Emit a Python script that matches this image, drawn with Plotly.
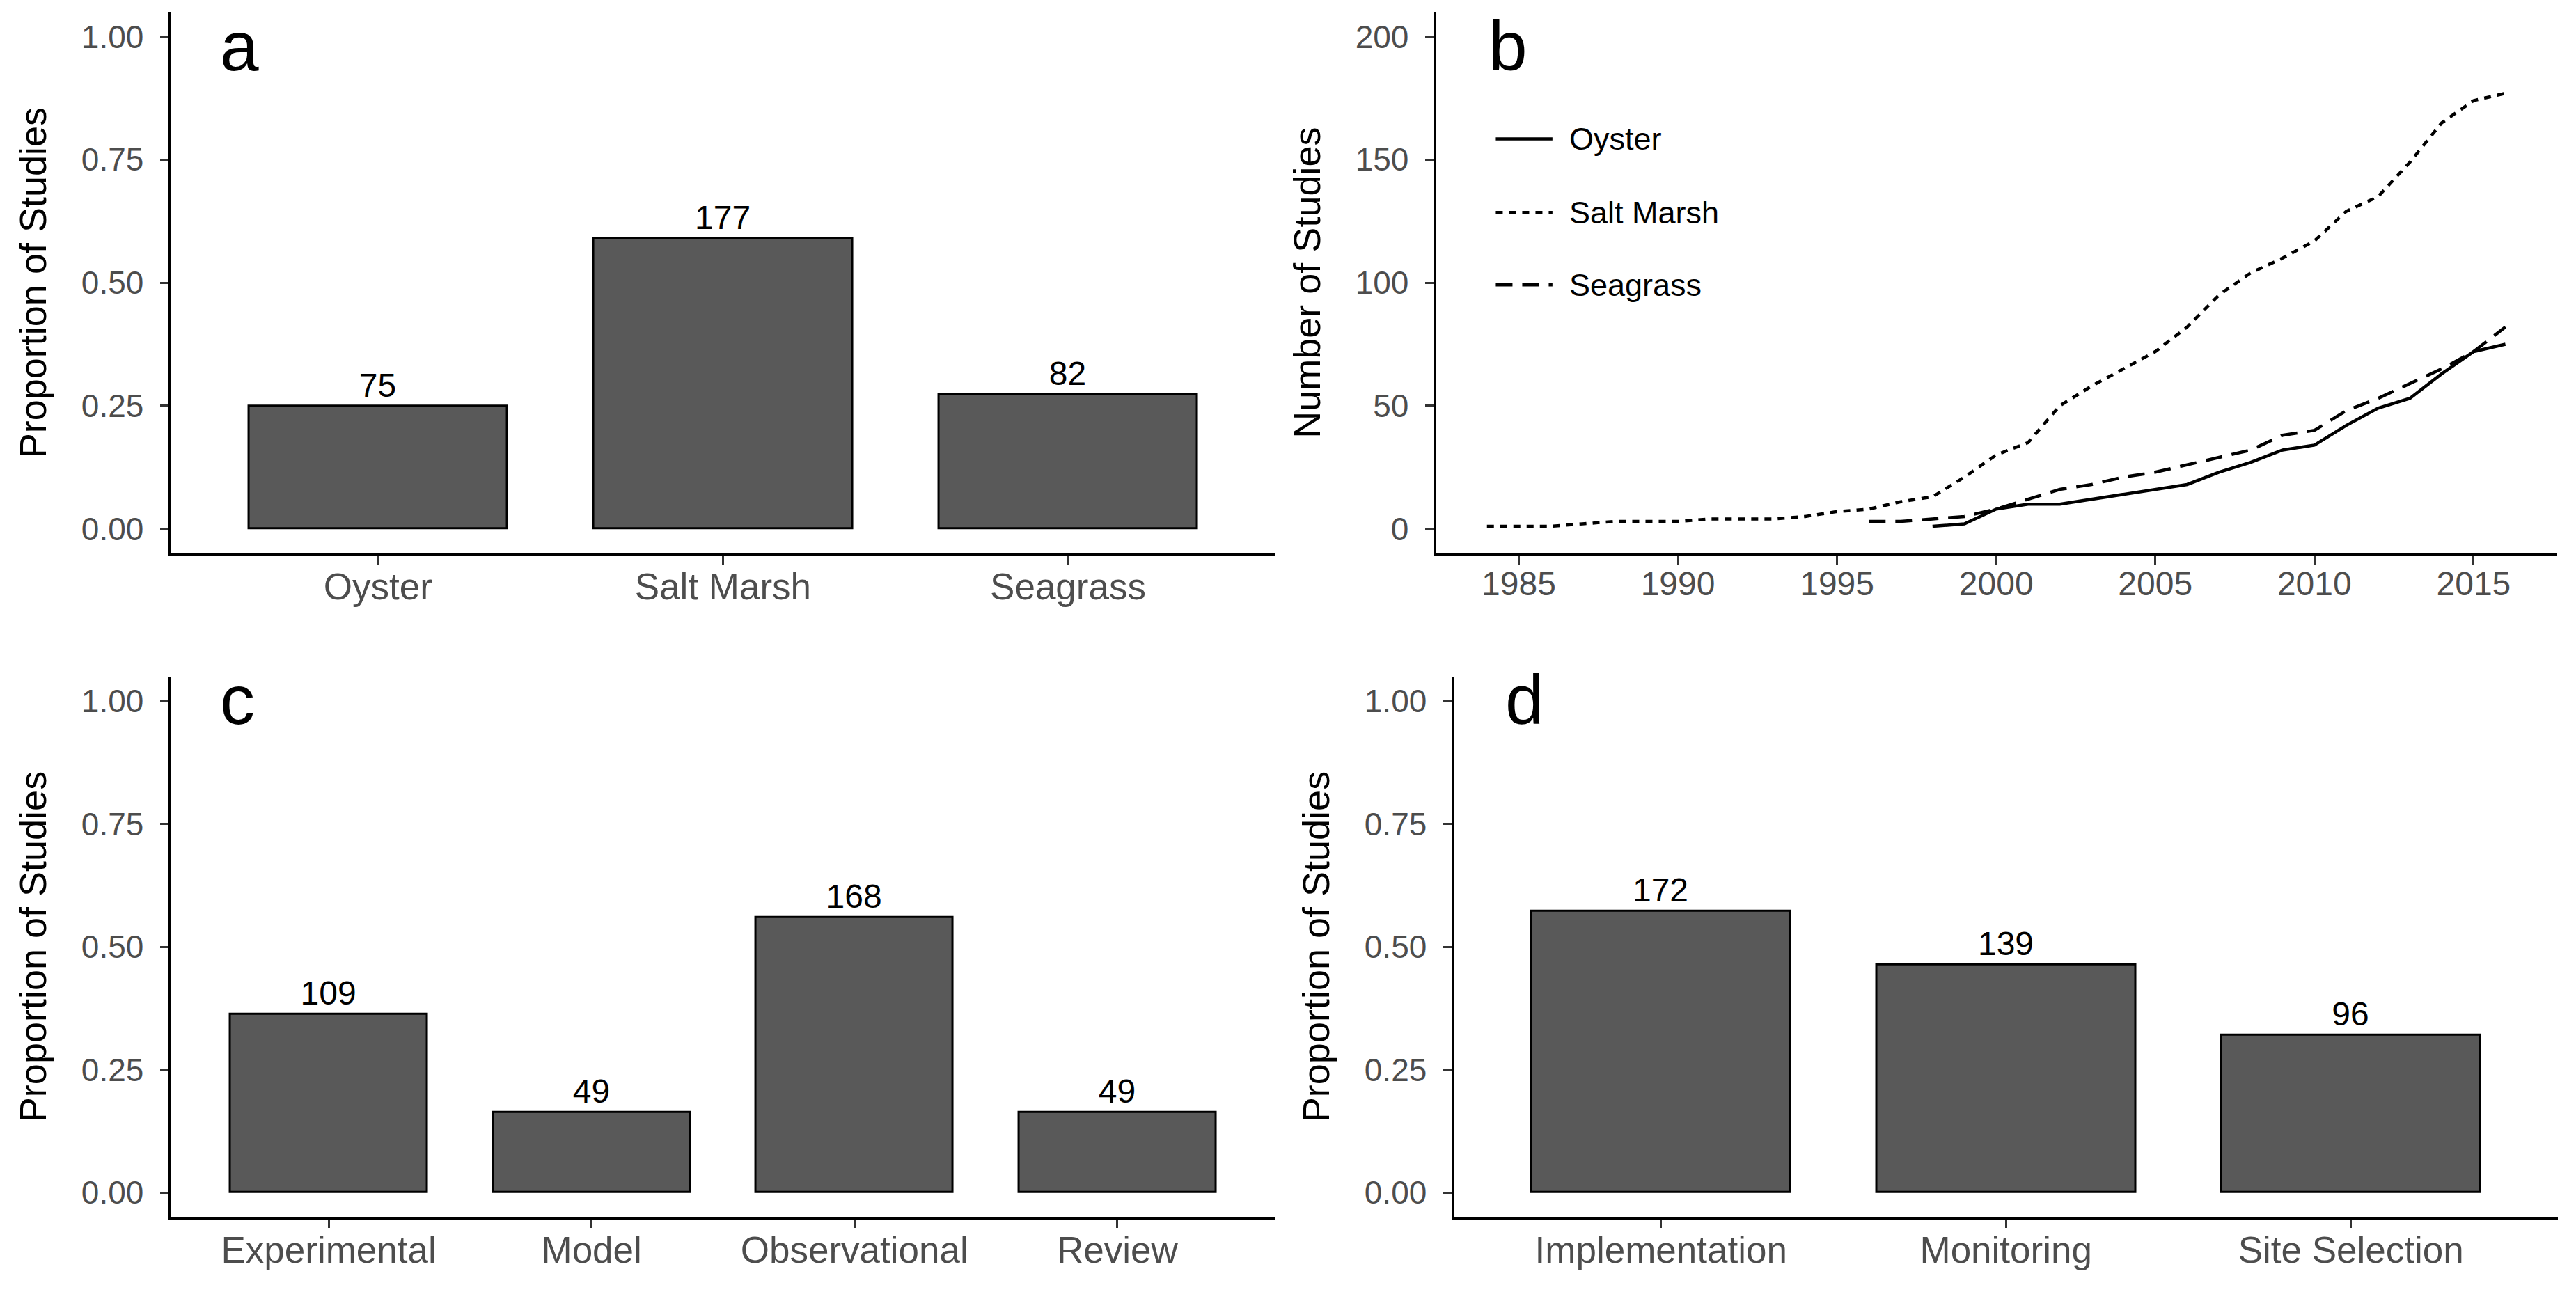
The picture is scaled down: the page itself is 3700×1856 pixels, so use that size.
import plotly.graph_objects as go

# panel a: habitat
habitats = ["Oyster", "Salt Marsh", "Seagrass"]
habitat_counts = [75, 177, 82]
total_studies = 300

# panel b: cumulative studies per year
marsh_years = list(range(1984, 2017))
marsh_cum = [1, 1, 1, 2, 3, 3, 3, 4, 4, 4, 5, 7, 8, 11, 13, 21, 30, 35, 50, 58,
             65, 72, 82, 95, 104, 110, 117, 129, 135, 149, 165, 174, 177]
oyster_years = list(range(1998, 2017))
oyster_cum = [1, 2, 8, 10, 10, 12, 14, 16, 18, 23, 27, 32, 34, 42, 49, 53, 63, 72, 75]
seagrass_years = list(range(1996, 2017))
seagrass_cum = [3, 3, 4, 5, 8, 12, 16, 18, 21, 23, 26, 29, 32, 38, 40, 48, 53, 59, 65, 72, 82]

# panel c: study type
study_types = ["Experimental", "Model", "Observational", "Review"]
type_counts = [109, 49, 168, 49]

# panel d: restoration stage
stages = ["Implementation", "Monitoring", "Site Selection"]
stage_counts = [172, 139, 96]

FONT = "Liberation Sans, Arial, Helvetica, sans-serif"
BAR_FILL = "#595959"
TICK_GREY = "#4D4D4D"
LINE_W = 4.5
DOT = "10px,9px"
DASH = "24px,14px"

fig = go.Figure()


def add_bars(cats, counts, xa, ya):
    props = [c / total_studies for c in counts]
    fig.add_trace(go.Bar(
        x=cats, y=props, width=0.75, xaxis=xa, yaxis=ya,
        marker=dict(color=BAR_FILL, line=dict(color="black", width=3)),
        text=[str(c) for c in counts], textposition="outside", cliponaxis=False,
        textfont=dict(family=FONT, size=48, color="black"),
        showlegend=False, hoverinfo="skip"))


add_bars(habitats, habitat_counts, "x", "y")
add_bars(study_types, type_counts, "x3", "y3")
add_bars(stages, stage_counts, "x4", "y4")

series = [("Oyster", oyster_years, oyster_cum, "solid"),
          ("Salt Marsh", marsh_years, marsh_cum, DOT),
          ("Seagrass", seagrass_years, seagrass_cum, DASH)]
for name, yrs, vals, dash in series:
    fig.add_trace(go.Scatter(x=yrs, y=vals, mode="lines", name=name,
                             xaxis="x2", yaxis="y2", showlegend=False,
                             line=dict(color="black", width=LINE_W, dash=dash)))

# legend drawn by hand so the key lines are as long as in ggplot
legend_y = [0.8968, 0.8398, 0.7838]
for (name, _, _, dash), ly in zip(series, legend_y):
    fig.add_shape(type="line", xref="paper", yref="paper",
                  x0=0.5785, x1=0.6005, y0=ly, y1=ly,
                  line=dict(color="black", width=LINE_W, dash=dash))
    fig.add_annotation(text=name, x=0.6065, y=ly, xref="paper", yref="paper",
                       xanchor="left", yanchor="middle", showarrow=False,
                       font=dict(family=FONT, size=45, color="black"))

top_dom = [0.576, 0.995]
bot_dom = [0.0623, 0.4808]

common_axis = dict(showline=True, linecolor="black", linewidth=4, mirror=False,
                   ticks="outside", ticklen=12, tickwidth=3, tickcolor="#333333",
                   showgrid=False, zeroline=False,
                   tickfont=dict(family=FONT, size=46, color=TICK_GREY))

cat_x = dict(common_axis, ticklabelstandoff=-14,
             tickfont=dict(family=FONT, size=53, color=TICK_GREY))

prop_y = dict(common_axis, range=[-0.05, 1.05], tickvals=[0, 0.25, 0.5, 0.75, 1.0],
              ticktext=["0.00", "0.25", "0.50", "0.75", "1.00"], ticklabelstandoff=14,
              title=dict(text="Proportion of Studies", standoff=34,
                         font=dict(family=FONT, size=54, color="black")))

fig.update_layout(
    width=3700, height=1856,
    margin=dict(l=0, r=0, t=0, b=0),
    paper_bgcolor="white", plot_bgcolor="white",
    font=dict(family=FONT, color="black"),
    bargap=0,
    showlegend=False,
    xaxis=dict(cat_x, domain=[0.0642, 0.4928], range=[-0.6, 2.6], anchor="y"),
    yaxis=dict(prop_y, domain=top_dom, anchor="x"),
    xaxis2=dict(common_axis, domain=[0.5553, 0.9902], range=[1982.4, 2017.6],
                tickvals=[1985, 1990, 1995, 2000, 2005, 2010, 2015], anchor="y2",
                ticklabelstandoff=-14,
                tickfont=dict(family=FONT, size=48, color=TICK_GREY)),
    yaxis2=dict(common_axis, domain=top_dom, range=[-10, 210], anchor="x2",
                tickvals=[0, 50, 100, 150, 200], ticklabelstandoff=14,
                title=dict(text="Number of Studies", standoff=34,
                           font=dict(family=FONT, size=54, color="black"))),
    xaxis3=dict(cat_x, domain=[0.0642, 0.4928], range=[-0.6, 3.6], anchor="y3"),
    yaxis3=dict(prop_y, domain=bot_dom, anchor="x3"),
    xaxis4=dict(cat_x, domain=[0.5623, 0.9908], range=[-0.6, 2.6], anchor="y4"),
    yaxis4=dict(prop_y, domain=bot_dom, anchor="x4"),
)

for letter, xpos, ypos in [("a", 0.0828, 1.0), ("b", 0.575, 1.0),
                           ("c", 0.0828, 0.494), ("d", 0.5815, 0.494)]:
    fig.add_annotation(text=letter, x=xpos, y=ypos, xref="paper", yref="paper",
                       xanchor="left", yanchor="top", showarrow=False,
                       font=dict(family=FONT, size=100, color="black"))

fig.write_html("out.html")
